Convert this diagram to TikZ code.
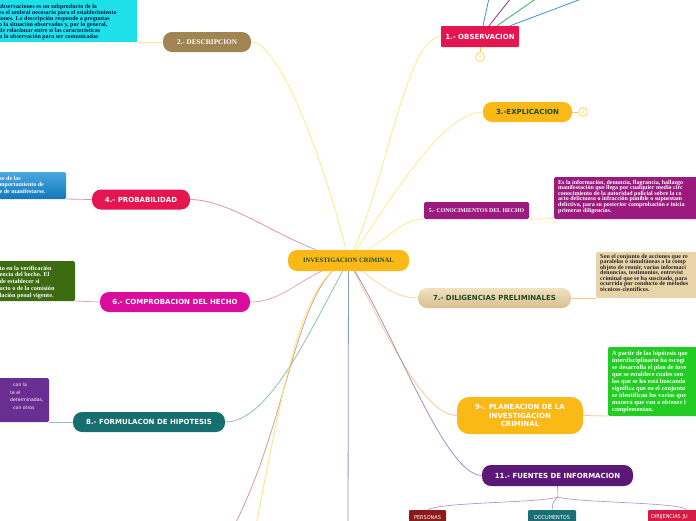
\documentclass[tikz,border=0pt]{standalone}
\usepackage{fontspec}
\setmainfont{Liberation Serif}
\newfontfamily\sansb{DejaVu Sans}
\newfontfamily\sansc{DejaVu Sans Condensed}
\usetikzlibrary{backgrounds}
\definecolor{cYel}{HTML}{FBB917}
\definecolor{cCrim}{HTML}{E5154F}
\definecolor{cBrown}{HTML}{A08452}
\definecolor{cMag}{HTML}{DA0C9E}
\definecolor{cTeal}{HTML}{166E6E}
\definecolor{cDkPur}{HTML}{5B1877}
\definecolor{cPur}{HTML}{9C1A7E}
\definecolor{cCyan}{HTML}{1DE0E8}
\definecolor{cBlueT}{HTML}{4AA8E0}
\definecolor{cBlueB}{HTML}{1477BA}
\definecolor{cDkGreenBox}{HTML}{3D6B12}
\definecolor{cPurBox}{HTML}{6A2D91}
\definecolor{cGreen}{HTML}{22CC22}
\definecolor{cBeige}{HTML}{E8D4A8}
\definecolor{cBeigeT}{HTML}{F0E2C0}
\definecolor{cBeigeB}{HTML}{D8BF8E}
\definecolor{cTxtGreen}{HTML}{1F4A2A}
\definecolor{cNavy}{HTML}{0A1A4A}
\definecolor{cPers}{HTML}{8B1A1A}
\definecolor{cDocs}{HTML}{1B6F74}
\definecolor{cDir}{HTML}{D41A45}
\definecolor{lYel}{HTML}{FFE98A}
\definecolor{lPink}{HTML}{E890A8}
\definecolor{lPink2}{HTML}{E8A0C8}
\definecolor{lBeige}{HTML}{F5D9A0}
\definecolor{lTeal}{HTML}{8FBFB8}
\definecolor{lPeach}{HTML}{FCC896}
\definecolor{lPur}{HTML}{A88BC8}
\definecolor{lGrey}{HTML}{8A9AC0}
\definecolor{lBrown}{HTML}{D49A9A}
\definecolor{lYel2}{HTML}{FFE36A}
\definecolor{lOrange}{HTML}{FFC870}
\definecolor{cCirc}{HTML}{F7D545}
\definecolor{lBlue}{HTML}{3D8FE0}
\definecolor{lViol}{HTML}{9B2FA0}
\definecolor{lGreen}{HTML}{2DB36A}
\tikzset{
  branch/.style={inner sep=0pt, minimum height=20pt, rounded corners=9pt, text=white,
    font=\sansb\bfseries\fontsize{7}{8.5}\selectfont},
  linetext/.style={inner sep=0pt, anchor=base west, font=\bfseries\fontsize{6}{6}\selectfont},
  conn/.style={line width=0.8pt},
  leaf/.style={inner sep=0pt, minimum height=14pt, rounded corners=1pt, text=white,
    font=\sansc\fontsize{5.5}{6}\selectfont},
  countc/.style={circle, draw=cCirc, line width=0.6pt, fill=white, inner sep=0pt, minimum size=9pt,
    text=cCirc, font=\sansb\fontsize{4.5}{5}\selectfont},
}
\begin{document}
\begin{tikzpicture}[x=1pt,y=-1pt]
\useasboundingbox (0,0) rectangle (696,520);
\clip (0,0) rectangle (696,520);

% ---------- text boxes ----------
\fill[cCyan] (-5,-5) rectangle (137,42);
\coordinate (descboxc) at (137,42);
\foreach \t [count=\i] in {observaciones es un subproducto de la,es el umbral necesario para el establecimiento,iones. La descripción responde a preguntas,{o la situación observados y, por lo general,},de relacionar entre sí las características,n la observación para ser comunicadas}
  \node[linetext, text=cNavy] (dl\i) at (-1,{8+6*(\i-1)}) {\t};

\shade[top color=cBlueT, bottom color=cBlueB, rounded corners=1.5pt] (-5,172) rectangle (66,199);
\coordinate (probboxc) at (66,199);
\foreach \t [count=\i] in {se de las,mportamiento de,e de manifestarse.}
  \node[linetext, text=white] (pl\i) at (-0.5,{180+6.5*(\i-1)}) {\t};

\fill[cDkGreenBox, rounded corners=1.5pt] (-5,261) rectangle (75,301);
\coordinate (compboxc) at (75,301);
\foreach \t [count=\i] in {to en la verificación,encia del hecho. El,de establecer si,acto o de la comisión,lación penal vigente.}
  \node[linetext, text=white, font=\bfseries\fontsize{6.2}{6}\selectfont] (cl\i) at (-0.5,{270+6.9*(\i-1)}) {\t};

\fill[cPurBox, rounded corners=1.5pt] (-5,378) rectangle (49,422);
\coordinate (formboxc) at (49,422);
\node[inner sep=0, anchor=base west, text=white, font=\sansb\fontsize{4.6}{5}\selectfont] (fl1) at (13,386.5) {con la};
\node[inner sep=0, anchor=base west, text=white, font=\sansb\fontsize{4.6}{5}\selectfont] (fl2) at (10,394) {te el};
\node[inner sep=0, anchor=base west, text=white, font=\sansb\fontsize{4.6}{5}\selectfont] (fl3) at (10,401.5) {determinadas,};
\node[inner sep=0, anchor=base west, text=white, font=\sansb\fontsize{4.6}{5}\selectfont] (fl4) at (13,409) {con otros};

\fill[cPur, rounded corners=1.5pt] (554,177) rectangle (710,219);
\coordinate (conocboxc) at (554,218.5);
\foreach \t [count=\i] in {{Es la información, denuncia, flagrancia, hallazgo},manifestación que llega por cualquier medio circ,conocimiento de la autoridad policial sobre la co,acto delictuoso o infracción punible o supuestam,{delictiva, para su posterior comprobación e inicia},primeras diligencias.}
  \node[linetext, text=white] (kl\i) at (558,{184+5.6*(\i-1)}) {\t};

\fill[cBeige, rounded corners=1.5pt] (596,252) rectangle (710,298);
\coordinate (diligboxc) at (596,298);
\foreach \t [count=\i] in {Son el conjunto de acciones que re,paralelas o simultáneas a la comp,{objeto de reunir, varias informaci},{denuncias, testimonios, entrevist},{criminal que se ha suscitado, para},ocurrido por conducto de métodos,técnicos-científicos.}
  \node[linetext, text=black!85] (gl\i) at (600,{258+5.55*(\i-1)}) {\t};

\fill[cGreen, rounded corners=1.5pt] (608,347) rectangle (710,416);
\coordinate (planboxc) at (608,416);
\foreach \t [count=\i] in {A partir de las hipótesis que,interdisciplinario ha escogi,se desarrolla el plan de inve,que se establece cuales son,las que se les está buscando,significa que en el conjunto,se identifican los vacíos que,manera que van a obtener l,complementan.}
  \node[linetext, text=white, font=\bfseries\fontsize{6.3}{6}\selectfont] (ql\i) at (612,{355.5+7*(\i-1)}) {\t};

% ---------- main nodes ----------
\node[fill=cYel, rounded corners=9pt, minimum width=121pt, minimum height=21pt, inner sep=0pt,
  text=cTxtGreen, font=\bfseries\fontsize{6.6}{7}\selectfont] (root) at (348.5,260.5) {INVESTIGACION CRIMINAL};
\node[branch, fill=cCrim, rounded corners=0.8pt, minimum width=78pt, minimum height=21pt] (obs) at (480,36.5) {1.- OBSERVACION};
\node[branch, fill=cBrown, minimum width=88pt, font=\bfseries\fontsize{7.2}{7.5}\selectfont] (desc) at (207,42) {2.- DESCRIPCION};
\node[branch, fill=cYel, minimum width=89pt, text=cTxtGreen] (expl) at (527.5,112) {3.-EXPLICACION};
\node[branch, fill=cCrim, minimum width=98pt] (prob) at (141,199.5) {4.- PROBABILIDAD};
\node[branch, fill=cPur, rounded corners=1.5pt, minimum width=105pt, minimum height=17pt,
  font=\bfseries\fontsize{5.8}{6}\selectfont] (conoc) at (476.5,210.5) {5.- CONOCIMIENTOS DEL HECHO};
\node[branch, fill=cMag, minimum width=150pt] (comp) at (175,302) {6.- COMPROBACION DEL HECHO};
\node[branch, top color=cBeigeT, bottom color=cBeigeB, minimum width=153pt, text=cTxtGreen] (dilig) at (494.5,298) {7.- DILIGENCIAS PRELIMINALES};
\node[branch, fill=cTeal, minimum width=152pt] (formul) at (149,422) {8.- FORMULACON DE HIPOTESIS};
\node[branch, fill=cYel, minimum width=126pt, minimum height=37pt, rounded corners=12pt, align=center] (plan) at (520,415.5) {9-. PLANEACION DE LA\\INVESTIGACION\\CRIMINAL};
\node[branch, fill=cDkPur, minimum width=151pt, minimum height=21pt] (fuentes) at (557.5,475.5) {11.- FUENTES DE INFORMACION};

\node[leaf, fill=cPers, minimum width=37pt] (pers) at (427.5,517) {PERSONAS};
\node[leaf, fill=cDocs, minimum width=48pt] (docs) at (552,517) {DOCUMENTOS};
\node[leaf, fill=cDir, minimum width=62pt, text width=56pt, align=left] (dirj) at (679,517) {DIRIJENCIAS JU};

\node[countc] (c1) at (480,57) {1};
\node[countc] (c2) at (583,112) {2};

\coordinate (t1) at (489,-2);
\coordinate (t2) at (511,-2);
\coordinate (t3) at (537,-2);
\coordinate (t4) at (584,-2);
\coordinate (dn10) at (348,530);
\coordinate (dn12) at (232,530);
\coordinate (dn13) at (255,530);
\coordinate (fork) at (558,497);

% ---------- connectors ----------
\begin{scope}[on background layer]
\clip (0,0) rectangle (696,520);
\draw[conn, lYel] (root.center) .. controls (385,190) and (405,37) .. (obs.west);
\draw[conn, lYel] (root.center) .. controls (330,180) and (282,42) .. (desc.east);
\draw[conn, lYel] (root.center) .. controls (385,210) and (440,112) .. (expl.west);
\draw[conn, lPink] (root.center) .. controls (285,245) and (235,200) .. (prob.east);
\draw[conn, lYel] (root.center) .. controls (390,240) and (400,219) .. (conoc.south west);
\draw[conn, lPink2] (root.center) .. controls (300,275) and (285,302) .. (comp.east);
\draw[conn, lBeige] (root.center) .. controls (380,285) and (395,298) .. (dilig.west);
\draw[conn, lTeal] (root.center) .. controls (310,330) and (270,422) .. (formul.east);
\draw[conn, lPeach] (root.center) .. controls (385,330) and (422,415) .. (plan.west);
\draw[conn, lPur] (root.center) .. controls (398,340) and (445,475) .. (fuentes.west);
\draw[conn, lGrey] (root.center) -- (dn10);
\draw[conn, lBrown] (root.center) .. controls (295,280) and (290,420) .. (dn12);
\draw[conn, lYel2] (root.center) .. controls (300,280) and (285,380) .. (dn13);

\draw[conn, lYel] (descboxc) -- (desc.west);
\draw[conn, lPink] (probboxc) -- (prob.west);
\draw[conn, lPink2] (compboxc) -- (comp.west);
\draw[conn, lTeal] (formboxc) -- (formul.west);
\draw[conn, lYel] (conoc.south east) -- (conocboxc);
\draw[conn, lOrange] (dilig.east) -- (diligboxc);
\draw[conn, lPeach] (plan.east) -- (planboxc);

\draw[conn, cCirc] (obs.south) -- (c1.north);
\draw[conn, cCirc] (expl.east) -- (c2.west);

\draw[conn, lBlue] ([xshift=3pt]obs.north) -- (t1);
\draw[conn, lViol] ([xshift=9pt]obs.north) -- (t2);
\draw[conn, lGreen] ([xshift=17pt]obs.north) -- (t3);
\draw[conn, lBlue] ([xshift=30pt]obs.north) -- (t4);

\draw[conn, lPur, line width=0.6pt] (fuentes.south) -- (fork);
\draw[conn, lPur, line width=0.6pt] (fork) .. controls (540,503) and (440,502) .. (pers.north);
\draw[conn, lPur, line width=0.6pt] (fork) .. controls (553,502) .. (docs.north);
\draw[conn, lPur, line width=0.6pt] (fork) .. controls (578,503) and (680,502) .. ([xshift=8pt]dirj.north);
\end{scope}
\end{tikzpicture}
\end{document}
